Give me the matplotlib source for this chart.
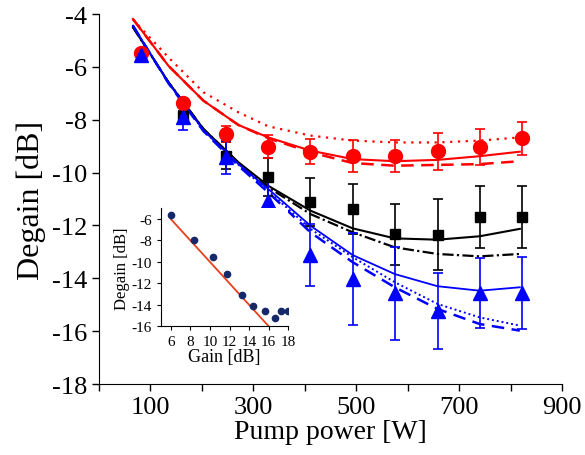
import numpy as np
import matplotlib.pyplot as plt

plt.rcParams['font.family'] = ['Liberation Serif', 'DejaVu Serif']
plt.rcParams['axes.unicode_minus'] = False

# measured points
power = [82, 164, 246, 329, 411, 493, 575, 658, 740, 822]
red_pts = [-5.49, -7.38, -8.55, -9.02, -9.21, -9.36, -9.36, -9.19, -9.02, -8.70]
red_err = [0.1, 0.1, 0.3, 0.44, 0.47, 0.6, 0.6, 0.7, 0.68, 0.63]
black_pts = [-5.6, -7.87, -9.36, -10.16, -11.11, -11.38, -12.34, -12.35, -11.68, -11.68]
black_err = [0.1, 0.2, 0.5, 0.73, 0.9, 0.93, 1.14, 1.35, 1.18, 1.18]
blue_pts = [-5.55, -7.91, -9.42, -11.06, -13.12, -14.03, -14.57, -15.23, -14.57, -14.57]
blue_err = [0.1, 0.48, 0.63, 0.72, 1.16, 1.74, 1.77, 1.44, 1.32, 1.36]

# model curves
xc = [66, 135, 203, 271, 329, 411, 493, 575, 658, 740, 818]
red_solid = [-4.19, -5.96, -7.28, -8.20, -8.67, -9.17, -9.49, -9.57, -9.52, -9.38, -9.21]
red_dash = [-4.19, -5.96, -7.28, -8.20, -8.70, -9.23, -9.64, -9.74, -9.71, -9.68, -9.57]
red_dot = [-4.21, -5.64, -6.96, -7.72, -8.25, -8.60, -8.79, -8.86, -8.86, -8.79, -8.67]
black_solid = [-4.50, -6.58, -8.35, -9.61, -10.50, -11.44, -12.11, -12.49, -12.54, -12.41, -12.13]
black_dashdot = [-4.50, -6.58, -8.35, -9.63, -10.56, -11.57, -12.26, -12.83, -13.08, -13.17, -13.08]
blue_solid = [-4.44, -6.60, -8.40, -9.68, -10.62, -12.01, -13.12, -13.84, -14.30, -14.47, -14.34]
blue_dot = [-4.44, -6.60, -8.40, -9.70, -10.70, -12.13, -13.20, -14.15, -14.97, -15.48, -15.79]
blue_dash = [-4.44, -6.62, -8.43, -9.74, -10.75, -12.26, -13.39, -14.34, -15.16, -15.73, -15.98]

# inset data
gain = [6.0, 8.35, 10.3, 11.7, 13.23, 14.38, 15.65, 16.63, 17.3, 18.0]
gain_degain = [-5.6, -8.0, -9.58, -11.13, -13.1, -14.09, -14.61, -15.26, -14.61, -14.61]
fit_x = [6.0, 16.0]
fit_y = [-6.0, -16.0]

fig = plt.figure(figsize=(5.85, 4.56), dpi=100)
ax = fig.add_axes([99 / 585, 1 - 385 / 456, (562 - 99) / 585, (385 - 15) / 456])

ax.plot(xc, red_solid, color='red', lw=1.5)
ax.plot(xc, red_dash, color='red', lw=1.8, ls=(0, (5, 3)))
ax.plot(xc, red_dot, color='red', lw=1.6, ls=(0, (1, 2.5)))
ax.plot(xc, black_solid, color='black', lw=1.5)
ax.plot(xc, black_dashdot, color='black', lw=1.6, ls=(0, (5, 1.5, 1, 1.5)))
ax.plot(xc, blue_solid, color='blue', lw=1.3)
ax.plot(xc, blue_dot, color='blue', lw=1.4, ls=(0, (1, 1.5)))
ax.plot(xc, blue_dash, color='blue', lw=1.8, ls=(0, (5, 3)))

ax.errorbar(power, black_pts, yerr=black_err, fmt='s', color='black', ms=7.5,
            capsize=3.5, elinewidth=1.2, capthick=1.2)
ax.errorbar(power, red_pts, yerr=red_err, fmt='o', color='red', ms=10,
            capsize=3.5, elinewidth=1.2, capthick=1.2)
ax.errorbar(power, blue_pts, yerr=blue_err, fmt='^', color='blue', ms=10,
            capsize=3.5, elinewidth=1.2, capthick=1.2)

ax.set_xlim(0, 900)
ax.set_ylim(-18, -4)
ax.set_xticks(range(0, 901, 100))
ax.set_xticklabels(['' if v % 200 == 0 else str(v) for v in range(0, 901, 100)])
ax.set_yticks(range(-18, -3, 2))
ax.tick_params(labelsize=19, direction='out', length=5, width=1)
ax.spines['top'].set_visible(False)
ax.spines['right'].set_visible(False)
ax.set_xlabel('Pump power [W]', fontsize=20, labelpad=1)
ax.set_ylabel('Degain [dB]', fontsize=23, labelpad=4)

ins = fig.add_axes([161 / 585, 1 - 327.3 / 456, (288.3 - 161) / 585, (327.3 - 209.3) / 456])
ins.plot(fit_x, fit_y, color='#e8401c', lw=1.3)
ins.plot(gain, gain_degain, 'o', color='#14286a', ms=4.5)
ins.set_xlim(5, 18)
ins.set_ylim(-16, -5)
ins.set_xticks(range(6, 19, 2))
ins.set_yticks(range(-16, -5, 2))
ins.tick_params(labelsize=11, direction='out', length=3, width=0.8)
ins.spines['top'].set_visible(False)
ins.spines['right'].set_visible(False)
ins.set_xlabel('Gain [dB]', fontsize=13, labelpad=0)
ins.set_ylabel('Degain [dB]', fontsize=12, labelpad=1)

fig.savefig('out.png', dpi=100)
